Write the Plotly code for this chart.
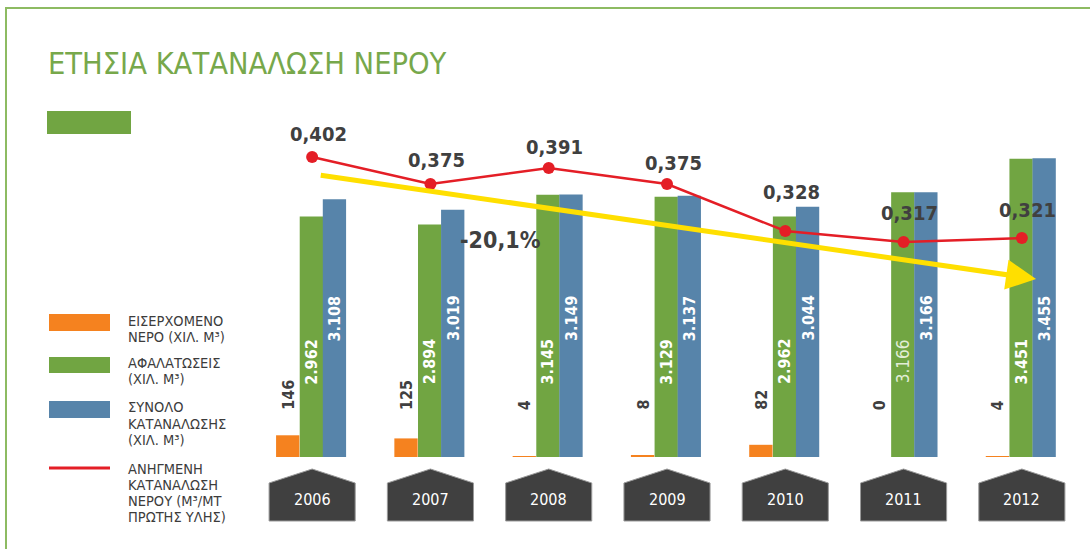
import plotly.graph_objects as go

# ---- data ----
years = [2006, 2007, 2008, 2009, 2010, 2011, 2012]
incoming = [146, 125, 4, 8, 82, 0, 4]                     # χιλ. m3
desalination = [2962, 2894, 3145, 3129, 2962, 3166, 3451]  # χιλ. m3
total = [3108, 3019, 3149, 3137, 3044, 3166, 3455]         # χιλ. m3
intensity = [0.402, 0.375, 0.391, 0.375, 0.328, 0.317, 0.321]  # m3 / t πρώτης ύλης

title_text = "ΕΤΗΣΙΑ ΚΑΤΑΝΑΛΩΣΗ ΝΕΡΟΥ"
legend_lines = {
    "incoming": ["ΕΙΣΕΡΧΟΜΕΝΟ", "ΝΕΡΟ (ΧΙΛ. Μ³)"],
    "desal": ["ΑΦΑΛΑΤΩΣΕΙΣ", "(ΧΙΛ. Μ³)"],
    "total": ["ΣΥΝΟΛΟ", "ΚΑΤΑΝΑΛΩΣΗΣ", "(ΧΙΛ. Μ³)"],
    "intensity": ["ΑΝΗΓΜΕΝΗ", "ΚΑΤΑΝΑΛΩΣΗ", "ΝΕΡΟΥ (Μ³/ΜΤ", "ΠΡΩΤΗΣ ΥΛΗΣ)"],
}

# ---- styling ----
ORANGE = "#F5821F"
GREEN = "#71A542"
BLUE = "#5784AA"
RED = "#E41E26"
YELLOW = "#FFDF00"
DARK = "#404040"
TITLE_GREEN = "#77A84B"
FRAME_GREEN = "#8DBB62"
FONT = "DejaVu Sans Condensed, Liberation Sans Narrow, sans-serif"

W, H = 1090, 549
L, R, T, B = 253, 9, 100, 92
PW, PH = W - L - R, H - T - B


def fx(p):
    """page pixel x -> paper fraction"""
    return (p - L) / PW


def fy(p):
    """page pixel y -> paper fraction"""
    return (H - B - p) / PH


BAR_W = 0.197
OFF_IN, OFF_DS, OFF_TOT = -0.305, -0.105, 0.09


def thousands(v):
    return f"{v:,}".replace(",", ".")


def decimal_comma(v):
    return f"{v:.3f}".replace(".", ",")


fig = go.Figure()

fig.add_trace(go.Bar(x=years, y=incoming, width=BAR_W, offset=OFF_IN,
                     marker=dict(color=ORANGE, line=dict(width=0)), yaxis="y3",
                     name="incoming"))
fig.add_trace(go.Bar(x=years, y=desalination, width=BAR_W, offset=OFF_DS,
                     marker=dict(color=GREEN, line=dict(width=0)), yaxis="y",
                     name="desal"))
fig.add_trace(go.Bar(x=years, y=total, width=BAR_W, offset=OFF_TOT,
                     marker=dict(color=BLUE, line=dict(width=0)), yaxis="y",
                     name="total"))
fig.add_trace(go.Scatter(x=years, y=intensity, mode="lines+markers", yaxis="y2",
                         line=dict(color=RED, width=2.5),
                         marker=dict(color=RED, size=12), name="intensity"))

annotations = []
shapes = []


def note(**kw):
    kw.setdefault("showarrow", False)
    kw.setdefault("xanchor", "center")
    kw.setdefault("yanchor", "middle")
    annotations.append(kw)


# value labels on the intensity line
label_lift = [23, 24, 21, 21, 39, 29, 28]
for yr, v, lift in zip(years, intensity, label_lift):
    note(x=yr, y=v, xref="x", yref="y2", text=decimal_comma(v), yshift=lift, xshift=6,
         font=dict(family=FONT, size=20, color=DARK, weight="bold"))

# rotated value labels for the bars
for i, yr in enumerate(years):
    note(x=yr + OFF_IN + BAR_W / 2, xref="x", y=fy(412), yref="paper",
         text=str(incoming[i]), textangle=-90, yanchor="bottom",
         font=dict(family=FONT, size=16, color=DARK, weight="bold"))
    light = yr == 2011
    note(x=yr + OFF_DS + BAR_W / 2, xref="x", y=fy(361.5), yref="paper",
         text=thousands(desalination[i]), textangle=-90,
         font=dict(family=FONT, size=17 if light else 16,
                   color="#E2EDD6" if light else "white",
                   weight="normal" if light else "bold"))
    note(x=yr + OFF_TOT + BAR_W / 2, xref="x", y=fy(318), yref="paper",
         text=thousands(total[i]), textangle=-90,
         font=dict(family=FONT, size=16, color="white", weight="bold"))

# trend arrow and overall change
change = (intensity[-1] - intensity[0]) / intensity[0] * 100
annotations.append(dict(x=2012.12, y=0.280, xref="x", yref="y2",
                        ax=2006.06, ay=0.384, axref="x", ayref="y2",
                        text="", showarrow=True, arrowhead=2, arrowsize=1.2,
                        arrowwidth=5, arrowcolor=YELLOW, standoff=0, startstandoff=0))
note(x=fx(500), y=fy(240), xref="paper", yref="paper",
     text=f"{change:.1f}%".replace(".", ","),
     font=dict(family=FONT, size=23, color=DARK, weight="bold"))

# year plates under the axis
half = 0.364
peak, shoulder, bottom = fy(469), fy(483), fy(521)
for yr in years:
    path = (f"M {yr - half} {shoulder} L {yr} {peak} L {yr + half} {shoulder} "
            f"L {yr + half} {bottom} L {yr - half} {bottom} Z")
    shapes.append(dict(type="path", path=path, xref="x", yref="paper",
                       fillcolor=DARK, line=dict(color="#9A9A9A", width=1), layer="above"))
    note(x=yr, y=fy(499), xref="x", yref="paper", text=str(yr),
         font=dict(family=FONT, size=16, color="white"))

# title, frame and decorative bar
note(x=fx(46), y=fy(64), xref="paper", yref="paper", text=title_text, xanchor="left",
     font=dict(family=FONT, size=30.5, color=TITLE_GREEN))
shapes.append(dict(type="rect", xref="paper", yref="paper", x0=fx(47), x1=fx(131),
                   y0=fy(134), y1=fy(111), fillcolor=GREEN, line=dict(width=0)))
shapes.append(dict(type="line", xref="paper", yref="paper", x0=fx(6), x1=fx(1092),
                   y0=fy(8), y1=fy(8), line=dict(color=FRAME_GREEN, width=2)))
shapes.append(dict(type="line", xref="paper", yref="paper", x0=fx(6), x1=fx(6),
                   y0=fy(7), y1=fy(551), line=dict(color=FRAME_GREEN, width=2)))

# hand-built legend
legend_rows = [
    ("incoming", "rect", ORANGE, 314, 331, [321, 337]),
    ("desal", "rect", GREEN, 357, 373, [363, 379]),
    ("total", "rect", BLUE, 401, 418, [407, 424, 440]),
    ("intensity", "line", RED, 468, 468, [469, 485, 501, 517]),
]
for key, kind, color, top, bot, line_ys in legend_rows:
    if kind == "rect":
        shapes.append(dict(type="rect", xref="paper", yref="paper", x0=fx(49), x1=fx(110),
                           y0=fy(bot), y1=fy(top), fillcolor=color, line=dict(width=0)))
    else:
        shapes.append(dict(type="line", xref="paper", yref="paper", x0=fx(49), x1=fx(110),
                           y0=fy(top), y1=fy(top), line=dict(color=color, width=3)))
    for txt, ly in zip(legend_lines[key], line_ys):
        note(x=fx(126), y=fy(ly), xref="paper", yref="paper", text=txt, xanchor="left",
             font=dict(family=FONT, size=14.5, color="#3C3C3C"))

fig.update_layout(
    width=W, height=H,
    margin=dict(l=L, r=R, t=T, b=B, pad=0),
    paper_bgcolor="white", plot_bgcolor="white",
    barmode="overlay", showlegend=False,
    xaxis=dict(range=[2005.5, 2012.5], visible=False, fixedrange=True),
    yaxis=dict(range=[920, 3950], visible=False, fixedrange=True),
    yaxis2=dict(range=[0.102, 0.459], overlaying="y", visible=False, fixedrange=True),
    yaxis3=dict(range=[0, 2400], overlaying="y", visible=False, fixedrange=True),
    annotations=annotations, shapes=shapes,
)

fig.write_html("out.html", config={"displayModeBar": False})
